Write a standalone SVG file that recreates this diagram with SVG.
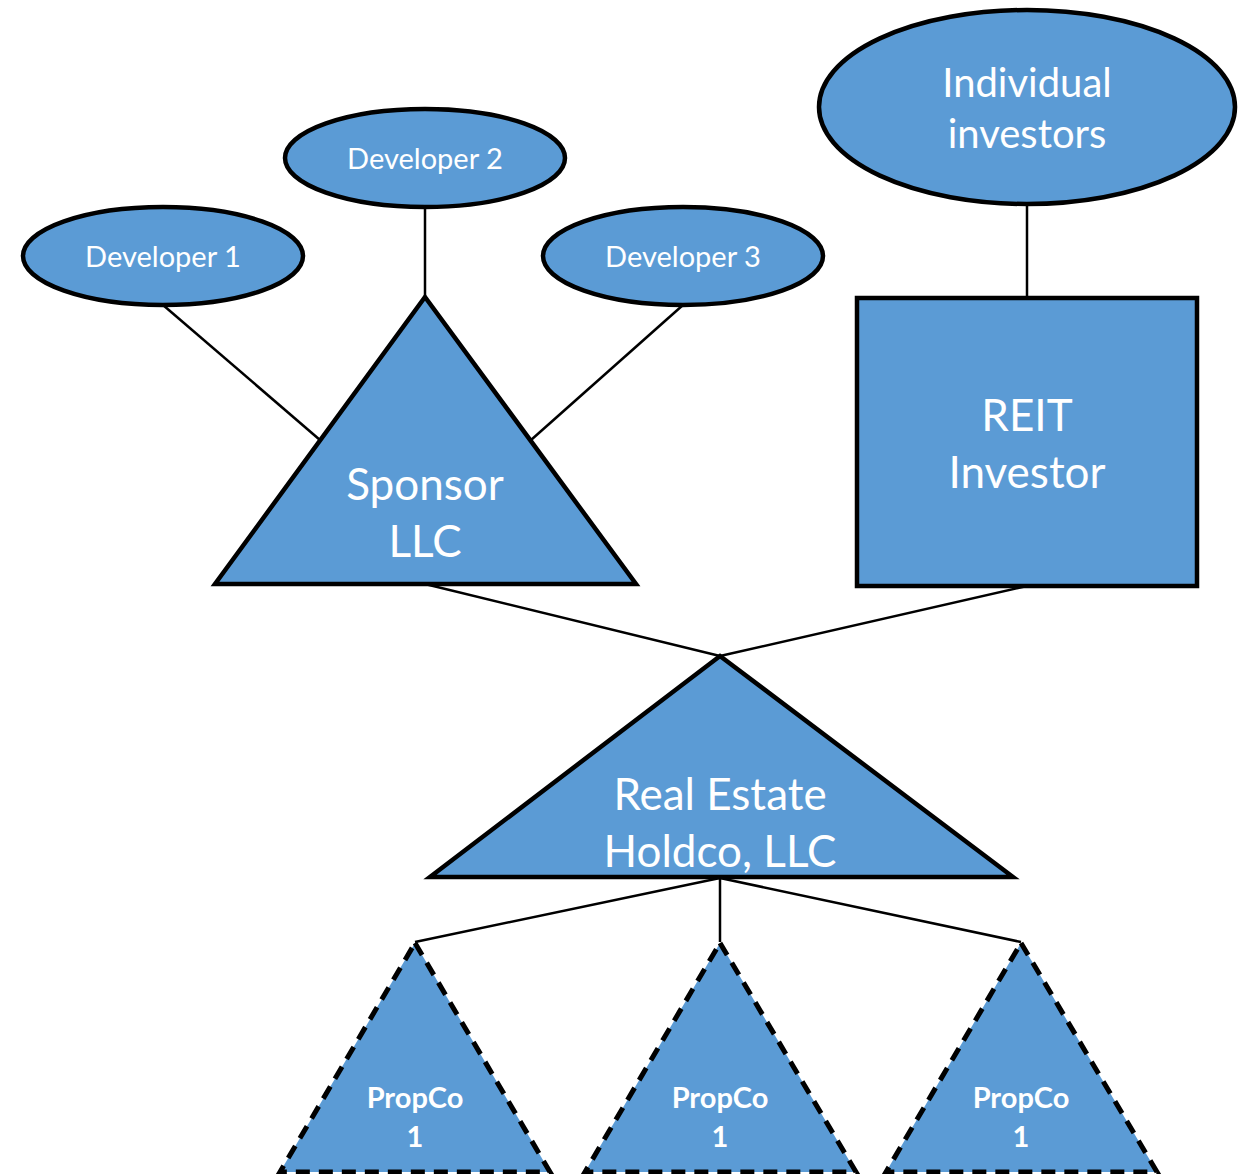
<svg xmlns="http://www.w3.org/2000/svg" width="1248" height="1174" viewBox="0 0 1248 1174">
  <style>
    .shape { fill: #5B9BD5; stroke: #000; stroke-width: 4.5; }
    .dashed { fill: #5B9BD5; stroke: #000; stroke-width: 5; stroke-dasharray: 14 9; }
    .link { stroke: #000; stroke-width: 2.5; fill: none; }
    .lbl { fill: #fff; font-family: Lato, "Open Sans", sans-serif; text-anchor: middle; }
    .bold { font-weight: bold; }
  </style>
  <rect width="1248" height="1174" fill="#fff"/>

  <!-- ownership connectors -->
  <g id="connectors">
    <line class="link" x1="1027" y1="205" x2="1027" y2="298"/>
    <line class="link" x1="425" y1="207" x2="425" y2="297"/>
    <line class="link" x1="163" y1="305" x2="320" y2="440"/>
    <line class="link" x1="683" y1="305" x2="531" y2="440"/>
    <line class="link" x1="425" y1="584" x2="720" y2="656"/>
    <line class="link" x1="1027" y1="586" x2="720" y2="656"/>
    <line class="link" x1="720" y1="878" x2="415" y2="942"/>
    <line class="link" x1="720" y1="878" x2="720" y2="942"/>
    <line class="link" x1="720" y1="878" x2="1021" y2="942"/>
  </g>

  <g id="individual-investors">
    <ellipse class="shape" cx="1027" cy="107" rx="208" ry="97"/>
    <text class="lbl" x="1027" y="97" font-size="40">Individual</text>
    <text class="lbl" x="1027" y="148" font-size="40">investors</text>
  </g>

  <g id="reit-investor">
    <rect class="shape" x="857" y="298" width="340" height="288"/>
    <text class="lbl" x="1027" y="431" font-size="44">REIT</text>
    <text class="lbl" x="1027" y="488" font-size="44">Investor</text>
  </g>

  <g id="developer-1">
    <ellipse class="shape" cx="163" cy="256" rx="140" ry="49"/>
    <text class="lbl" x="163" y="267" font-size="29">Developer 1</text>
  </g>

  <g id="developer-2">
    <ellipse class="shape" cx="425" cy="158" rx="140" ry="49"/>
    <text class="lbl" x="425" y="169" font-size="29">Developer 2</text>
  </g>

  <g id="developer-3">
    <ellipse class="shape" cx="683" cy="256" rx="140" ry="49"/>
    <text class="lbl" x="683" y="267" font-size="29">Developer 3</text>
  </g>

  <g id="sponsor-llc">
    <polygon class="shape" points="425,297 636,584 215,584"/>
    <text class="lbl" x="425" y="500" font-size="44">Sponsor</text>
    <text class="lbl" x="425" y="557" font-size="44">LLC</text>
  </g>

  <g id="holdco">
    <polygon class="shape" points="720,656 1013,877 430,877"/>
    <text class="lbl" x="720" y="810" font-size="44">Real Estate</text>
    <text class="lbl" x="720" y="867" font-size="44">Holdco, LLC</text>
  </g>

  <g id="propco-a">
    <polygon class="dashed" points="415,943 550,1172 280,1172"/>
    <text class="lbl bold" x="415" y="1108" font-size="29">PropCo</text>
    <text class="lbl bold" x="415" y="1147" font-size="29">1</text>
  </g>

  <g id="propco-b">
    <polygon class="dashed" points="720,943 856,1172 585,1172"/>
    <text class="lbl bold" x="720" y="1108" font-size="29">PropCo</text>
    <text class="lbl bold" x="720" y="1147" font-size="29">1</text>
  </g>

  <g id="propco-c">
    <polygon class="dashed" points="1021,943 1157,1172 886,1172"/>
    <text class="lbl bold" x="1021" y="1108" font-size="29">PropCo</text>
    <text class="lbl bold" x="1021" y="1147" font-size="29">1</text>
  </g>
</svg>
